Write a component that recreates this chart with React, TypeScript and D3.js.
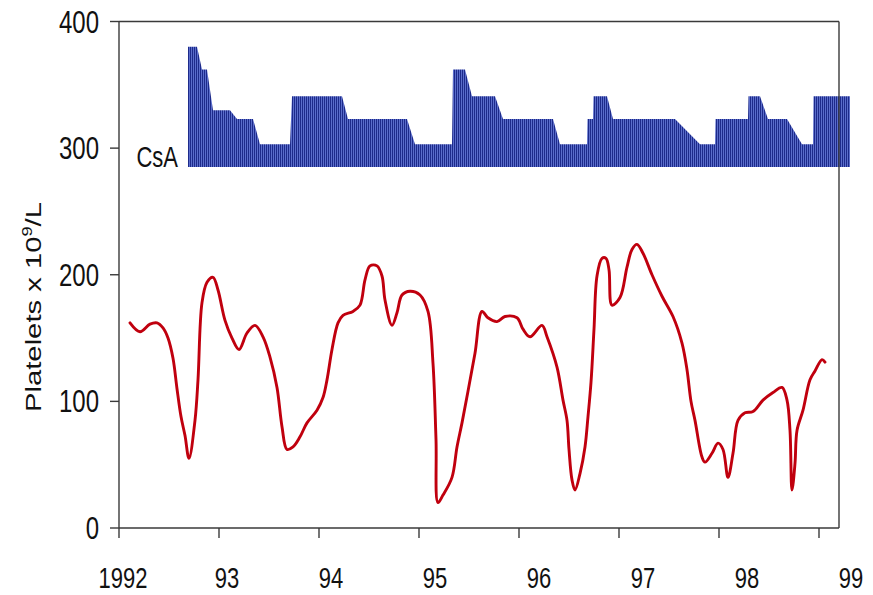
import React from "react";
import * as d3 from "d3";

// Platelet count over time (x 10^9/L), by decimal year
const plateletYears = [
  1992.11, 1992.21, 1992.31, 1992.38, 1992.44, 1992.49, 1992.54, 1992.58, 1992.62, 1992.66,
  1992.7, 1992.76, 1992.79, 1992.83, 1992.88, 1992.94, 1992.99, 1993.06, 1993.13, 1993.2,
  1993.28, 1993.36, 1993.44, 1993.51, 1993.58, 1993.63, 1993.68, 1993.74, 1993.81, 1993.88,
  1993.98, 1994.04, 1994.08, 1994.13, 1994.19, 1994.24, 1994.34, 1994.41, 1994.46, 1994.51,
  1994.58, 1994.63, 1994.66, 1994.73, 1994.78, 1994.83, 1994.91, 1995.01, 1995.09, 1995.14,
  1995.17, 1995.19, 1995.24, 1995.33, 1995.38, 1995.43, 1995.49, 1995.56, 1995.63, 1995.69,
  1995.78, 1995.86, 1995.98, 1996.04, 1996.11, 1996.23, 1996.28, 1996.38, 1996.44, 1996.48,
  1996.5, 1996.53, 1996.56, 1996.61, 1996.66, 1996.69, 1996.72, 1996.75, 1996.78, 1996.83,
  1996.87, 1996.9, 1996.93, 1997.01, 1997.08, 1997.13, 1997.18, 1997.24, 1997.33, 1997.43,
  1997.54, 1997.63, 1997.68, 1997.72, 1997.76, 1997.83, 1997.86, 1997.93, 1997.99, 1998.04,
  1998.09, 1998.14, 1998.19, 1998.26, 1998.34, 1998.44, 1998.54, 1998.63, 1998.68, 1998.71,
  1998.73, 1998.76, 1998.78, 1998.84, 1998.91, 1998.96, 1999.03, 1999.06,
];
const plateletValues = [
  162, 155, 161, 162, 158, 150, 134, 110, 88, 73,
  55, 85, 117, 178, 194, 198, 188, 164, 150, 141,
  154, 160, 151, 135, 111, 80, 62, 64, 72, 83,
  93, 103, 117, 141, 162, 168, 171, 176, 196, 207,
  207, 199, 180, 160, 170, 184, 187, 184, 171, 130,
  70, 20, 26, 40, 64, 83, 108, 138, 171, 166,
  163, 167, 166, 157, 151, 160, 151, 127, 101, 85,
  62, 38, 30, 43, 64, 88, 115, 157, 199, 213,
  213, 204, 176, 182, 206, 220, 224, 217, 200, 183,
  167, 146, 125, 100, 85, 56, 52, 59, 67, 62,
  40, 59, 85, 91, 92, 101, 107, 111, 101, 77,
  30, 51, 77, 93, 117, 124, 133, 131,
];

// Cyclosporin A dosing band, drawn on the platelet scale
const csaYears = [
  1992.69, 1992.78, 1992.83, 1992.88, 1992.94, 1993.11, 1993.18, 1993.34, 1993.41, 1993.71,
  1993.73, 1994.23, 1994.29, 1994.88, 1994.96, 1995.33, 1995.34, 1995.46, 1995.53, 1995.76,
  1995.84, 1996.34, 1996.41, 1996.68, 1996.685, 1996.74, 1996.745, 1996.88, 1996.94, 1997.56,
  1997.81, 1997.96, 1997.965, 1998.29, 1998.295, 1998.41, 1998.49, 1998.68, 1998.83, 1998.94,
  1998.945, 1999.31,
];
const csaLevels = [
  380, 380, 362, 362, 330, 330, 323, 323, 303, 303,
  341, 341, 323, 323, 303, 303, 362, 362, 341, 341,
  323, 323, 303, 303, 323, 323, 341, 341, 323, 323,
  303, 303, 323, 323, 341, 341, 323, 323, 303, 303,
  341, 341,
];
const csaBase = 285;

const yTicks = [0, 100, 200, 300, 400];
const xTicks = [1992, 1993, 1994, 1995, 1996, 1997, 1998, 1999];
const xTickLabels = ["1992", "93", "94", "95", "96", "97", "98", "99"];

const W = 873;
const H = 595;
const left = 119;
const right = 839;
const top = 21.5;
const bottom = 528;
const FONT = "'Liberation Sans', Arial, Helvetica, sans-serif";
const STRETCH = 1.3;

export default function App() {
  const x = d3.scaleLinear().domain([1992, 1999.2]).range([left, right]);
  const y = d3.scaleLinear().domain([0, 400]).range([bottom, top]);
  // tick labels sit on a slightly wider spacing than the tick marks
  const xLabel = d3.scaleLinear().domain([1992, 1999]).range([123, 851]);

  const platelets = plateletYears.map((t, i) => ({ t, v: plateletValues[i] }));
  const csa = csaYears.map((t, i) => ({ t, v: csaLevels[i] }));

  const line = d3
    .line<{ t: number; v: number }>()
    .x((d) => x(d.t))
    .y((d) => y(d.v))
    .curve(d3.curveCatmullRom.alpha(0.5));

  const area = d3
    .area<{ t: number; v: number }>()
    .x((d) => x(d.t))
    .y0(y(csaBase))
    .y1((d) => y(d.v))
    .curve(d3.curveLinear);

  return (
    <svg
      width={W}
      height={H}
      style={{ position: "absolute", left: 0, top: 0, background: "#fff" }}
      fontFamily={FONT}
    >
      <defs>
        <pattern id="csaStripes" width={2} height={4} patternUnits="userSpaceOnUse">
          <rect x={0} y={0} width={2} height={4} fill="#5a6dcb" />
          <rect x={0} y={0} width={1} height={4} fill="#1d2a8a" />
        </pattern>
      </defs>

      {/* CsA band */}
      <path d={area(csa) ?? ""} fill="url(#csaStripes)" />
      <g transform={`translate(178, 167) scale(1, ${STRETCH})`}>
        <text textAnchor="end" fontSize={22} fill="#111">
          CsA
        </text>
      </g>

      {/* frame */}
      <g stroke="#3a3a3a" strokeWidth={1.4} fill="none">
        <line x1={left} x2={right} y1={top} y2={top} />
        <line x1={right} x2={right} y1={top} y2={bottom} />
        <line x1={left} x2={left} y1={top} y2={bottom} />
        <line x1={left} x2={right} y1={bottom} y2={bottom} />
      </g>

      {/* y axis ticks and labels */}
      {yTicks.map((v) => (
        <g key={v}>
          <line x1={left - 9} x2={left} y1={y(v)} y2={y(v)} stroke="#3a3a3a" strokeWidth={1.4} />
          <g transform={`translate(99, ${y(v) + 11}) scale(1, ${STRETCH})`}>
            <text textAnchor="end" fontSize={24} fill="#111">
              {v}
            </text>
          </g>
        </g>
      ))}

      {/* x axis ticks and labels */}
      {xTicks.map((t, i) => (
        <g key={t}>
          <line x1={x(t)} x2={x(t)} y1={bottom} y2={bottom + 10} stroke="#3a3a3a" strokeWidth={1.4} />
          <g transform={`translate(${xLabel(t)}, 588) scale(1, ${STRETCH})`}>
            <text textAnchor="middle" fontSize={22} fill="#111">
              {xTickLabels[i]}
            </text>
          </g>
        </g>
      ))}

      {/* y axis title */}
      <g transform={`translate(41, 307) scale(1, ${STRETCH}) rotate(-90)`}>
        <text textAnchor="middle" fontSize={22.5} fill="#111">
          Platelets x 10
          <tspan fontSize={14} dy={-9}>
            9
          </tspan>
          <tspan dy={9}>/L</tspan>
        </text>
      </g>

      {/* platelet line */}
      <path
        d={line(platelets) ?? ""}
        fill="none"
        stroke="#c0000e"
        strokeWidth={2.9}
        strokeLinejoin="round"
        strokeLinecap="round"
      />
    </svg>
  );
}
